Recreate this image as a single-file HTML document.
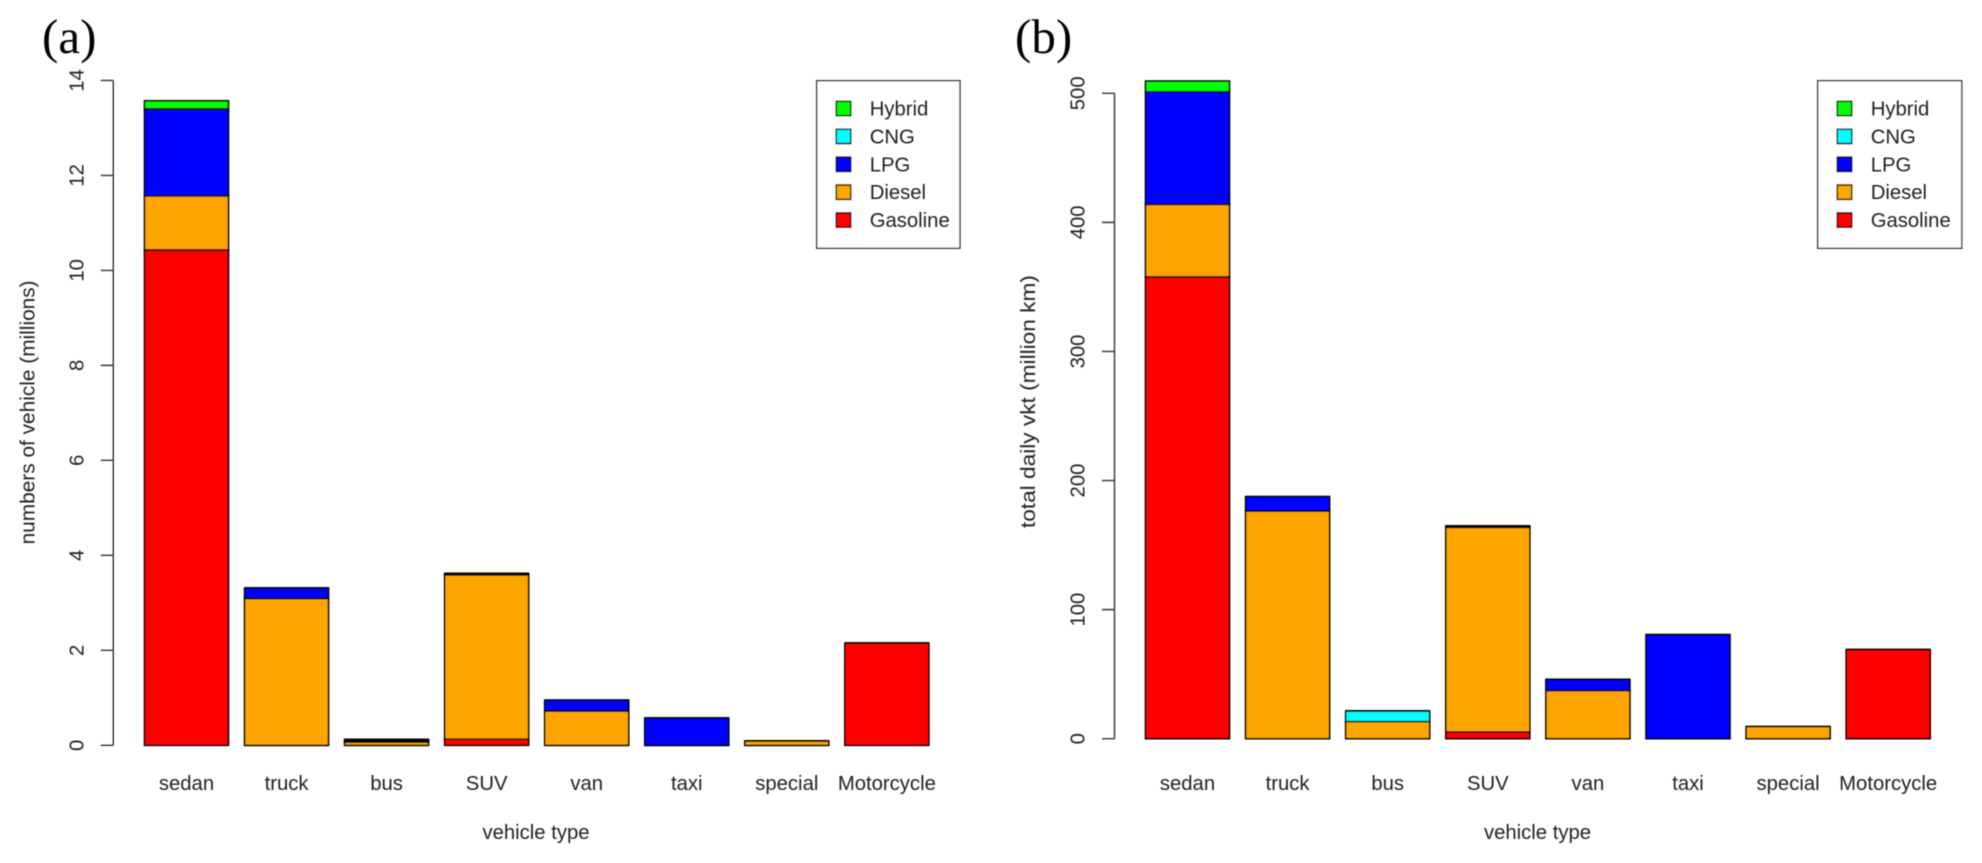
<!DOCTYPE html>
<html lang="en">
<head>
<meta charset="utf-8">
<title>Vehicle counts and daily VKT by vehicle type and fuel</title>
<style>
  html, body { margin: 0; padding: 0; background: #fff; width: 1982px; height: 863px; overflow: hidden; }
  svg { display: block; }
  text { font-family: "Liberation Sans", Arial, sans-serif; font-size: 20.3px; fill: #222; }
  .panel-tag { font-family: "Liberation Serif", "Times New Roman", serif; font-size: 49px; fill: #000; }
</style>
</head>
<body>
<svg id="root" xmlns="http://www.w3.org/2000/svg" width="1982" height="863" viewBox="0 0 1982 863">
  <defs>
    <filter id="soft" x="-5%" y="-5%" width="110%" height="110%"><feGaussianBlur stdDeviation="0.55"/></filter>
    <filter id="softText" x="-5%" y="-5%" width="110%" height="110%"><feGaussianBlur stdDeviation="0.4"/></filter>
  </defs>
  <rect x="0" y="0" width="1982" height="863" fill="#fff"/>
  <text class="panel-tag" x="42" y="53" filter="url(#softText)">(a)</text>
  <text class="panel-tag" x="1015" y="53" filter="url(#softText)">(b)</text>
  <g id="chart-a"></g>
  <g id="chart-b"></g>
</svg>
<script>
// Shared categories and series (bottom of stack first)
const categories = ["sedan", "truck", "bus", "SUV", "van", "taxi", "special", "Motorcycle"];
const seriesNames = ["Gasoline", "Diesel", "LPG", "CNG", "Hybrid"];
const seriesColors = ["#ff0000", "#ffa500", "#0000ff", "#00ffff", "#00ff00"];
const legendLabels = ["Hybrid", "CNG", "LPG", "Diesel", "Gasoline"];
const legendColors = ["#00ff00", "#00ffff", "#0000ff", "#ffa500", "#ff0000"];

// Panel (a): number of vehicles, millions
const gasolineA = [10.43, 0, 0, 0.13, 0, 0, 0, 2.15];
const dieselA   = [1.14, 3.09, 0.07, 3.46, 0.72, 0, 0.09, 0];
const lpgA      = [1.83, 0.22, 0.025, 0.03, 0.23, 0.575, 0, 0];
const cngA      = [0, 0, 0.03, 0, 0, 0, 0, 0];
const hybridA   = [0.17, 0, 0, 0, 0, 0, 0, 0];
const ticksA    = [0, 2, 4, 6, 8, 10, 12, 14];

// Panel (b): total daily vkt, million km
const gasolineB = [357.7, 0, 0, 5.2, 0, 0, 0, 69];
const dieselB   = [56.3, 176.4, 13.2, 158.6, 37.2, 0, 9.3, 0];
const lpgB      = [87.2, 11.1, 0, 1, 8.8, 80.6, 0, 0];
const cngB      = [0, 0, 8.3, 0, 0, 0, 0, 0];
const hybridB   = [8.3, 0, 0, 0, 0, 0, 0, 0];
const ticksB    = [0, 100, 200, 300, 400, 500];

const NS = "http://www.w3.org/2000/svg";

function make(tag, parent) {
  const el = document.createElementNS(NS, tag);
  parent.appendChild(el);
  return el;
}

function drawChart(host, layout, stacks, ticks, yTitle) {
  const yScale = v => layout.y0 - v * layout.unit;
  const xLeft = i => layout.barLeft + i * layout.barStep;

  const marks = make("g", host);
  marks.setAttribute("filter", "url(#soft)");
  
  

  const labels = make("g", host);
  labels.setAttribute("filter", "url(#softText)");
  
  

  // stacked bars (zero-height segments still leave a line, as in the source plot)
  categories.forEach((cat, i) => {
    let base = 0;
    stacks.forEach((vals, s) => {
      const top = base + vals[i];
      const x0 = xLeft(i), x1 = x0 + layout.barWidth;
      const seg = make("path", marks);
      seg.setAttribute("d", `M${x0} ${yScale(base)}H${x1}V${yScale(top)}H${x0}Z`);
      seg.setAttribute("fill", seriesColors[s]);
      seg.setAttribute("stroke", "#000");
      seg.setAttribute("stroke-width", "1.6");
      
      
      base = top;
    });

    const lab = make("text", labels);
    lab.setAttribute("x", xLeft(i) + layout.barWidth / 2);
    lab.setAttribute("y", layout.xLabelY);
    lab.setAttribute("text-anchor", "middle");
    
    
    lab.textContent = cat;
  });

  // y axis
  const axis = make("path", marks);
  const tickPath = ticks.map(t => `M${layout.axisX - 12.5} ${yScale(t)}H${layout.axisX}`).join("");
  axis.setAttribute("d", `M${layout.axisX} ${yScale(ticks[0])}V${yScale(ticks[ticks.length - 1])}` + tickPath);
  axis.setAttribute("fill", "none");
  axis.setAttribute("stroke", "#333");
  axis.setAttribute("stroke-width", "1.4");
  
  

  ticks.forEach(t => {
    const lab = make("text", labels);
    const lx = layout.axisX - 30, ly = yScale(t);
    lab.setAttribute("transform", `translate(${lx} ${ly}) rotate(-90)`);
    lab.setAttribute("text-anchor", "middle");
    
    
    lab.textContent = String(t);
  });

  const yT = make("text", labels);
  yT.setAttribute("transform", `translate(${layout.yTitleX} ${layout.yTitleY}) rotate(-90)`);
  yT.setAttribute("text-anchor", "middle");
  yT.setAttribute("textLength", layout.yTitleLen);
  yT.setAttribute("lengthAdjust", "spacingAndGlyphs");
  
  
  yT.textContent = yTitle;

  const xT = make("text", labels);
  xT.setAttribute("x", layout.xTitleX);
  xT.setAttribute("y", 839);
  xT.setAttribute("text-anchor", "middle");
  
  
  xT.textContent = "vehicle type";

  // legend
  const box = make("rect", marks);
  box.setAttribute("x", layout.legendX);
  box.setAttribute("y", 80.7);
  box.setAttribute("width", layout.legendW);
  box.setAttribute("height", 167.6);
  box.setAttribute("fill", "#fff");
  box.setAttribute("stroke", "#333");
  box.setAttribute("stroke-width", "1.4");
  
  

  legendLabels.forEach((name, k) => {
    const cy = 108.5 + k * 27.9;
    const sw = make("rect", marks);
    sw.setAttribute("x", layout.legendX + 19.5);
    sw.setAttribute("y", cy - 7.2);
    sw.setAttribute("width", 14.6);
    sw.setAttribute("height", 14.4);
    sw.setAttribute("fill", legendColors[k]);
    sw.setAttribute("stroke", "#000");
    sw.setAttribute("stroke-width", "1.5");
    
    

    const tx = make("text", labels);
    tx.setAttribute("x", layout.legendX + 53);
    tx.setAttribute("y", cy + 7);
    
    
    tx.textContent = name;
  });
}

// Stack order matches seriesNames: gasoline, diesel, LPG, CNG, hybrid
drawChart(document.getElementById("chart-a"),
  { y0: 745.3, unit: 47.49, barLeft: 144.5, barStep: 100.05, barWidth: 84, axisX: 113.3,
    xLabelY: 790, yTitleX: 34.5, yTitleY: 412.4, yTitleLen: 264, xTitleX: 536, legendX: 816.7, legendW: 143.3 },
  [gasolineA, dieselA, lpgA, cngA, hybridA],
  ticksA, "numbers of vehicle (millions)");

drawChart(document.getElementById("chart-b"),
  { y0: 738.7, unit: 1.2908, barLeft: 1145.5, barStep: 100.1, barWidth: 84, axisX: 1114.5,
    xLabelY: 790, yTitleX: 1035, yTitleY: 401.6, yTitleLen: 253, xTitleX: 1537.5, legendX: 1817.7, legendW: 144 },
  [gasolineB, dieselB, lpgB, cngB, hybridB],
  ticksB, "total daily vkt (million km)");
</script>
</body>
</html>
